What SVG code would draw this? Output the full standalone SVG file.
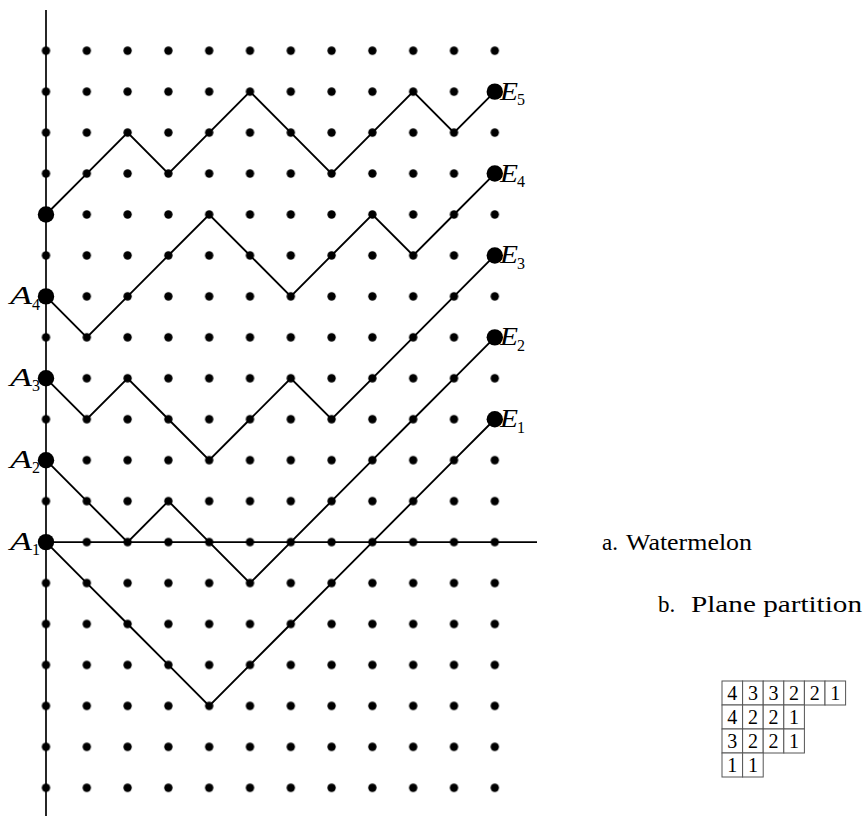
<svg xmlns="http://www.w3.org/2000/svg" width="865" height="828" viewBox="0 0 865 828">
  <style>
    .axis { stroke: #000; stroke-width: 1.7; fill: none; }
    .path { stroke: #000; stroke-width: 1.9; fill: none; stroke-linejoin: miter; }
    .big { fill: #000; }
    .lbl { font-family: "Liberation Serif", "Times New Roman", serif; font-style: italic; font-size: 25px; fill: #000; }
    .sub { font-family: "Liberation Serif", "Times New Roman", serif; font-size: 16px; fill: #000; }
    .cap { font-family: "Liberation Serif", "Times New Roman", serif; font-size: 23px; fill: #000; }
    .cell { fill: #fff; stroke: #555; stroke-width: 1; }
    .num { font-family: "Liberation Serif", "Times New Roman", serif; font-size: 20px; fill: #000; text-anchor: middle; }
  </style>
  <defs>
    <pattern id="dots" patternUnits="userSpaceOnUse" x="25.6" y="30.225" width="40.8" height="40.95">
      <circle cx="20.4" cy="20.475" r="4.2" fill="#000"/>
    </pattern>
  </defs>
  <rect width="865" height="828" fill="#fff"/>

  <g id="lattice">
    <rect x="25.6" y="30.225" width="489.6" height="778.05" fill="url(#dots)"/>
  </g>

  <g id="axes">
    <line class="axis" x1="46" y1="10" x2="46" y2="816"/>
    <line class="axis" x1="46" y1="542.1" x2="537" y2="542.1"/>
  </g>

  <g id="connectors">
    <polyline class="path" points="46,214.5 86.8,173.55 127.6,132.6 168.4,173.55 209.2,132.6 250,91.65 290.8,132.6 331.6,173.55 372.4,132.6 413.2,91.65 454,132.6 494.8,91.65"/>
    <polyline class="path" points="46,296.4 86.8,337.35 127.6,296.4 168.4,255.45 209.2,214.5 250,255.45 290.8,296.4 331.6,255.45 372.4,214.5 413.2,255.45 454,214.5 494.8,173.55"/>
    <polyline class="path" points="46,378.3 86.8,419.25 127.6,378.3 168.4,419.25 209.2,460.2 250,419.25 290.8,378.3 331.6,419.25 372.4,378.3 413.2,337.35 454,296.4 494.8,255.45"/>
    <polyline class="path" points="46,460.2 86.8,501.15 127.6,542.1 168.4,501.15 209.2,542.1 250,583.05 290.8,542.1 331.6,501.15 372.4,460.2 413.2,419.25 454,378.3 494.8,337.35"/>
    <polyline class="path" points="46,542.1 86.8,583.05 127.6,624 168.4,664.95 209.2,705.9 250,664.95 290.8,624 331.6,583.05 372.4,542.1 413.2,501.15 454,460.2 494.8,419.25"/>
  </g>

  <g id="start5"><circle class="big" cx="46" cy="214.5" r="8.2"/></g>
  <g id="A4"><text class="lbl" x="10" y="304.4" textLength="22" lengthAdjust="spacingAndGlyphs">A</text><text class="sub" x="32" y="309.5">4</text><circle class="big" cx="46" cy="296.4" r="8.2"/></g>
  <g id="A3"><text class="lbl" x="10" y="386.3" textLength="22" lengthAdjust="spacingAndGlyphs">A</text><text class="sub" x="32" y="391.4">3</text><circle class="big" cx="46" cy="378.3" r="8.2"/></g>
  <g id="A2"><text class="lbl" x="10" y="468.2" textLength="22" lengthAdjust="spacingAndGlyphs">A</text><text class="sub" x="32" y="473.3">2</text><circle class="big" cx="46" cy="460.2" r="8.2"/></g>
  <g id="A1"><text class="lbl" x="10" y="550.1" textLength="22" lengthAdjust="spacingAndGlyphs">A</text><text class="sub" x="32" y="555.2">1</text><circle class="big" cx="46" cy="542.1" r="8.2"/></g>

  <g id="E5"><circle class="big" cx="494.8" cy="91.65" r="8.2"/><text class="lbl" x="500" y="99.6" textLength="18" lengthAdjust="spacingAndGlyphs">E</text><text class="sub" x="517" y="105">5</text></g>
  <g id="E4"><circle class="big" cx="494.8" cy="173.55" r="8.2"/><text class="lbl" x="500" y="181.5" textLength="18" lengthAdjust="spacingAndGlyphs">E</text><text class="sub" x="517" y="186.9">4</text></g>
  <g id="E3"><circle class="big" cx="494.8" cy="255.45" r="8.2"/><text class="lbl" x="500" y="263.4" textLength="18" lengthAdjust="spacingAndGlyphs">E</text><text class="sub" x="517" y="268.8">3</text></g>
  <g id="E2"><circle class="big" cx="494.8" cy="337.35" r="8.2"/><text class="lbl" x="500" y="345.3" textLength="18" lengthAdjust="spacingAndGlyphs">E</text><text class="sub" x="517" y="350.7">2</text></g>
  <g id="E1"><circle class="big" cx="494.8" cy="419.25" r="8.2"/><text class="lbl" x="500" y="427.2" textLength="18" lengthAdjust="spacingAndGlyphs">E</text><text class="sub" x="517" y="432.6">1</text></g>

  <g id="captions">
    <text class="cap" x="602" y="550">a.</text>
    <text class="cap" x="626" y="550" textLength="126" lengthAdjust="spacingAndGlyphs">Watermelon</text>
    <text class="cap" x="658" y="612">b.</text>
    <text class="cap" x="691" y="612" textLength="171" lengthAdjust="spacingAndGlyphs">Plane partition</text>
  </g>

  <g id="partition">
    <g id="row1">
      <rect class="cell" x="722" y="681" width="20.6" height="24"/><text class="num" x="732.3" y="700">4</text>
      <rect class="cell" x="742.6" y="681" width="20.6" height="24"/><text class="num" x="752.9" y="700">3</text>
      <rect class="cell" x="763.2" y="681" width="20.6" height="24"/><text class="num" x="773.5" y="700">3</text>
      <rect class="cell" x="783.8" y="681" width="20.6" height="24"/><text class="num" x="794.1" y="700">2</text>
      <rect class="cell" x="804.4" y="681" width="20.6" height="24"/><text class="num" x="814.7" y="700">2</text>
      <rect class="cell" x="825" y="681" width="20.6" height="24"/><text class="num" x="835.3" y="700">1</text>
    </g>
    <g id="row2">
      <rect class="cell" x="722" y="705" width="20.6" height="24"/><text class="num" x="732.3" y="724">4</text>
      <rect class="cell" x="742.6" y="705" width="20.6" height="24"/><text class="num" x="752.9" y="724">2</text>
      <rect class="cell" x="763.2" y="705" width="20.6" height="24"/><text class="num" x="773.5" y="724">2</text>
      <rect class="cell" x="783.8" y="705" width="20.6" height="24"/><text class="num" x="794.1" y="724">1</text>
    </g>
    <g id="row3">
      <rect class="cell" x="722" y="729" width="20.6" height="24"/><text class="num" x="732.3" y="748">3</text>
      <rect class="cell" x="742.6" y="729" width="20.6" height="24"/><text class="num" x="752.9" y="748">2</text>
      <rect class="cell" x="763.2" y="729" width="20.6" height="24"/><text class="num" x="773.5" y="748">2</text>
      <rect class="cell" x="783.8" y="729" width="20.6" height="24"/><text class="num" x="794.1" y="748">1</text>
    </g>
    <g id="row4">
      <rect class="cell" x="722" y="753" width="20.6" height="24"/><text class="num" x="732.3" y="772">1</text>
      <rect class="cell" x="742.6" y="753" width="20.6" height="24"/><text class="num" x="752.9" y="772">1</text>
    </g>
  </g>
</svg>
